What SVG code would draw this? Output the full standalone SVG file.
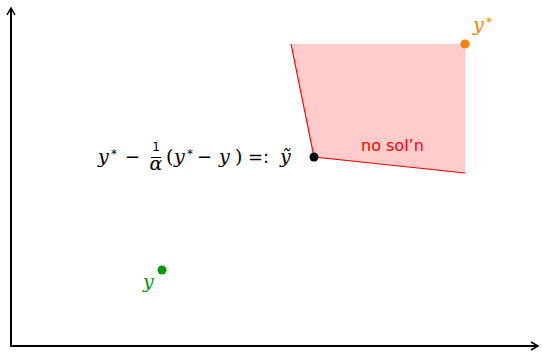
<svg xmlns="http://www.w3.org/2000/svg" width="542" height="353" viewBox="0 0 542 353">
<style>
.ax{stroke:#000;stroke-width:2;fill:none}
.m{font-family:"DejaVu Serif","Liberation Serif",serif;font-style:italic;font-size:19px}
.u{font-family:"DejaVu Serif","Liberation Serif",serif;font-size:19px}
.n{font-family:"DejaVu Sans","Liberation Sans",sans-serif;font-size:18px}
.s{font-family:"DejaVu Sans",sans-serif;font-size:12px}
.r{font-family:"DejaVu Sans","Liberation Sans",sans-serif;font-size:16px}
</style>
<defs>
<marker id="ah" viewBox="0 0 10 10" refX="8" refY="5" markerWidth="10" markerHeight="10" markerUnits="userSpaceOnUse" orient="auto">
<path d="M1,1 L8,5 L1,9" fill="none" stroke="#000" stroke-width="1.5"/>
</marker>
</defs>
<rect width="542" height="353" fill="#fff"/>
<g id="region">
<polygon points="291,44 465,44 465,173 314,157" fill="#ffcccc"/>
<polyline points="291,44 314,157 465,173" fill="none" stroke="#ff0000" stroke-width="1.2"/>
<text x="361" y="151" class="r" fill="#ff0000">no sol’n</text>
</g>
<g id="connectors">
<line x1="11" y1="347" x2="11" y2="8" class="ax" marker-end="url(#ah)"/>
<line x1="10" y1="346" x2="538" y2="346" class="ax" marker-end="url(#ah)"/>
</g>
<g id="ystar">
<circle cx="465" cy="44" r="4.5" fill="#ff8000"/>
<text x="473" y="31" class="m" font-size="16" fill="#ff8000">y</text>
<text x="486" y="26" class="s" font-size="11" fill="#ff8000">*</text>
</g>
<g id="ytilde">
<circle cx="314" cy="157" r="4.5" fill="#000"/>
<text x="98" y="163" class="m">y</text>
<text x="111" y="158" class="s">*</text>
<text x="125" y="163" class="n">−</text>
<text x="156" y="151" class="s" font-size="10" text-anchor="middle">1</text>
<line x1="151" y1="157.5" x2="161" y2="157.5" stroke="#000" stroke-width="1"/>
<text x="156" y="170" class="m" font-size="10" text-anchor="middle">α</text>
<text x="166" y="163" class="u">(</text>
<text x="174" y="163" class="m">y</text>
<text x="187" y="158" class="s">*</text>
<text x="197" y="163" class="n">−</text>
<text x="219" y="163" class="m">y</text>
<text x="235" y="163" class="u">)</text>
<text x="248" y="163" class="n">=:</text>
<text x="280" y="163" class="m">ỹ</text>
</g>
<g id="y">
<circle cx="162" cy="270" r="4.5" fill="#009900"/>
<text x="143" y="288" class="m" fill="#009900">y</text>
</g>
</svg>
